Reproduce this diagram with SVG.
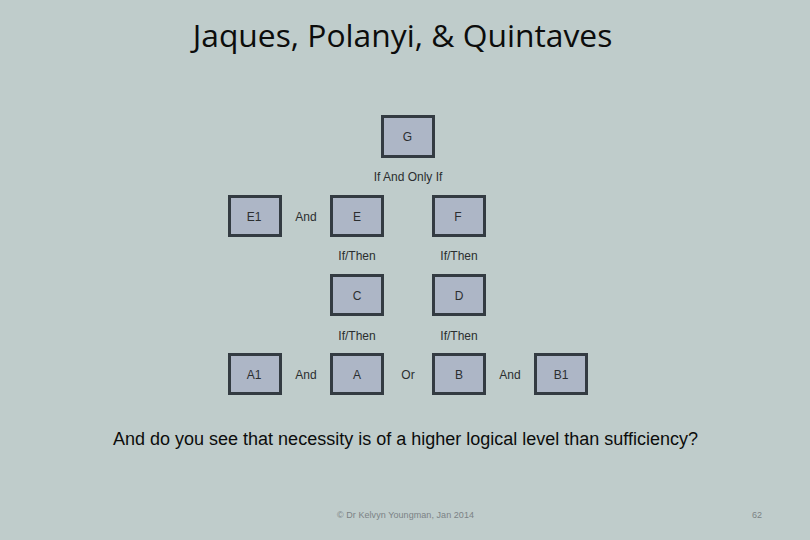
<svg xmlns="http://www.w3.org/2000/svg" width="810" height="540" viewBox="0 0 810 540">
<style>
.n{fill:#adb6c6;stroke:#333b42;stroke-width:3}
text{font-family:"Liberation Sans",Arial,sans-serif;text-anchor:middle;fill:#2b2e30}
.l{font-size:12px}
.t{font-family:"Open Sans","Noto Sans",sans-serif;font-size:31.8px;fill:#0c0c0c}
.s{font-size:18px;fill:#0c0c0c}
.f{font-size:9px;fill:#7b8285}
</style>
<rect width="810" height="540" fill="#bfcccb"/>
<text class="t" x="402.500" y="47">Jaques, Polanyi, &amp; Quintaves</text>
<g id="connectors"></g>
<g id="node-G"><rect class="n" x="382.500" y="116.500" width="51" height="40"/><text class="l" x="407.500" y="141">G</text></g>
<g id="node-E1"><rect class="n" x="229.500" y="196.500" width="51" height="39"/><text class="l" x="254" y="221">E1</text></g>
<g id="node-E"><rect class="n" x="331.500" y="196.500" width="51" height="39"/><text class="l" x="357" y="221">E</text></g>
<g id="node-F"><rect class="n" x="433.500" y="196.500" width="51" height="39"/><text class="l" x="458" y="221">F</text></g>
<g id="node-C"><rect class="n" x="331.500" y="275.500" width="51" height="39"/><text class="l" x="357" y="300">C</text></g>
<g id="node-D"><rect class="n" x="433.500" y="275.500" width="51" height="39"/><text class="l" x="459" y="300">D</text></g>
<g id="node-A1"><rect class="n" x="229.500" y="354.500" width="51" height="39"/><text class="l" x="254" y="379">A1</text></g>
<g id="node-A"><rect class="n" x="331.500" y="354.500" width="51" height="39"/><text class="l" x="357" y="379">A</text></g>
<g id="node-B"><rect class="n" x="433.500" y="354.500" width="51" height="39"/><text class="l" x="459" y="379">B</text></g>
<g id="node-B1"><rect class="n" x="535.500" y="354.500" width="51" height="39"/><text class="l" x="561" y="379">B1</text></g>
<text class="l" x="408" y="181">If And Only If</text>
<text class="l" x="306" y="221">And</text>
<text class="l" x="357" y="260">If/Then</text>
<text class="l" x="459" y="260">If/Then</text>
<text class="l" x="357" y="340">If/Then</text>
<text class="l" x="459" y="340">If/Then</text>
<text class="l" x="306" y="379">And</text>
<text class="l" x="408" y="379">Or</text>
<text class="l" x="510" y="379">And</text>
<text class="s" x="405.500" y="445">And do you see that necessity is of a higher logical level than sufficiency?</text>
<text class="f" x="405.500" y="518" textLength="137">© Dr Kelvyn Youngman, Jan 2014</text>
<text class="f" x="757" y="518">62</text>
</svg>
